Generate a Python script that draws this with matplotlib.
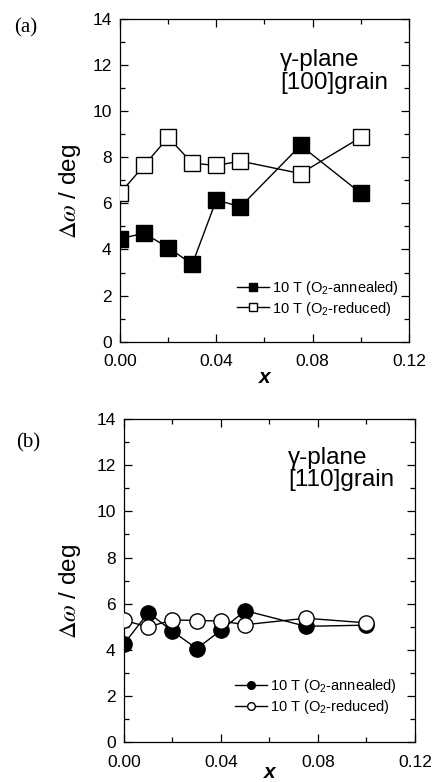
import matplotlib
matplotlib.use('Agg')
import matplotlib.pyplot as plt
from matplotlib.ticker import MultipleLocator

plt.rcParams['font.family'] = ['Liberation Sans', 'DejaVu Sans']
plt.rcParams['mathtext.fontset'] = 'custom'
plt.rcParams['mathtext.rm'] = 'Liberation Sans'
plt.rcParams['mathtext.it'] = 'Liberation Sans:italic'
plt.rcParams['mathtext.bf'] = 'Liberation Sans:bold'

# data
x_vals = [0.0, 0.01, 0.02, 0.03, 0.04, 0.05, 0.075, 0.10]

a_annealed = [4.47, 4.70, 4.08, 3.36, 6.15, 5.85, 8.51, 6.44]
a_reduced = [6.44, 7.64, 8.86, 7.74, 7.64, 7.83, 7.29, 8.86]

b_annealed = [4.26, 5.61, 4.81, 4.05, 4.85, 5.70, 5.02, 5.07]
b_reduced = [5.28, 4.99, 5.30, 5.27, 5.25, 5.09, 5.37, 5.17]

panel_labels = ['(a)', '(b)']
grain_labels = ['\u03b3-plane\n[100]grain', '\u03b3-plane\n[110]grain']
legend_labels = ['10 T (O$_2$-annealed)', '10 T (O$_2$-reduced)']
x_ticks = [0.00, 0.04, 0.08, 0.12]
y_ticks = [0, 2, 4, 6, 8, 10, 12, 14]

fig = plt.figure(figsize=(4.35, 7.82), dpi=100)
ax_a = fig.add_axes([0.276, 0.563, 0.664, 0.413])
ax_b = fig.add_axes([0.285, 0.051, 0.669, 0.413])

# axes, series, marker, panel label pos, grain text pos, legend anchor,
# ylabel pos, xlabel pad
panels = [
    (ax_a, a_annealed, a_reduced, 's', (0.059, 0.964), (0.555, 0.905),
     (0.965, 0.075), (-0.128, 0.467), -1),
    (ax_b, b_annealed, b_reduced, 'o', (0.065, 0.4335), (0.565, 0.915),
     (0.937, 0.082), (-0.141, 0.467), -4.5),
]

for i, (ax, ann, red, mk, plab, gpos, lpos, ylpos, xpad) in enumerate(panels):
    ax.plot(x_vals, ann, color='black', lw=1.0, marker=mk, ms=11,
            mfc='black', mec='black', mew=1.0, label=legend_labels[0], zorder=3)
    ax.plot(x_vals, red, color='black', lw=1.0, marker=mk, ms=11,
            mfc='white', mec='black', mew=1.0, label=legend_labels[1], zorder=3)

    ax.set_xlim(0, 0.12)
    ax.set_ylim(0, 14)
    ax.set_xticks(x_ticks)
    ax.set_xticklabels(['%.2f' % v for v in x_ticks])
    ax.set_yticks(y_ticks)
    ax.xaxis.set_minor_locator(MultipleLocator(0.02))
    ax.yaxis.set_minor_locator(MultipleLocator(1))
    ax.tick_params(which='both', direction='in', top=True, right=True,
                   labelsize=12.5, width=0.9)
    ax.tick_params(axis='y', pad=6)
    ax.tick_params(axis='x', pad=9)
    ax.tick_params(which='major', length=6)
    ax.tick_params(which='minor', length=3.5)
    for s in ax.spines.values():
        s.set_linewidth(0.9)

    ax.set_xlabel('x', fontsize=15, fontweight='bold', style='italic', labelpad=xpad)
    ax.set_ylabel(r'$\mathit{\Delta\omega}$ / deg', fontsize=17.5,
                  math_fontfamily='stix')
    ax.yaxis.set_label_coords(ylpos[0], ylpos[1])

    ax.text(gpos[0], gpos[1], grain_labels[i], transform=ax.transAxes, ha='left',
            va='top', fontsize=17.5, linespacing=1.05)

    ax.legend(loc='lower right', bbox_to_anchor=lpos, frameon=False,
              fontsize=10.5, handlelength=2.2, handletextpad=0.2,
              labelspacing=0.15, markerscale=0.5, borderpad=0, borderaxespad=0)

    fig.text(plab[0], plab[1], panel_labels[i], fontsize=15,
             family=['Liberation Serif', 'DejaVu Serif'], ha='center', va='center')

fig.savefig('out.png', dpi=100)
